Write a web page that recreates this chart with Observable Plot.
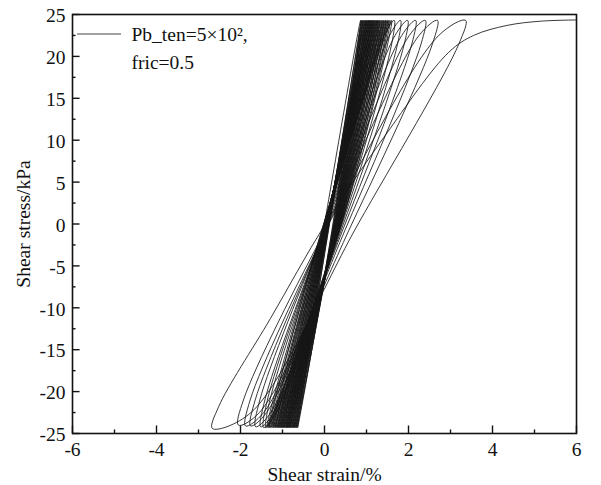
<!DOCTYPE html>
<html>
<head>
<meta charset="utf-8">
<script src="https://cdn.jsdelivr.net/npm/d3@7"></script>
<script src="https://cdn.jsdelivr.net/npm/@observablehq/plot@0.6"></script>
<style>
  body { margin: 0; background: #fff; }
  #chart { position: relative; width: 601px; height: 485px; }
  #chart svg, #chart svg text { font-family: 'Liberation Serif', 'Times New Roman', serif; }
</style>
</head>
<body>
<div id="chart"></div>
<script>
// ---- axis ticks ----
const xMajor = [-6, -4, -2, 0, 2, 4, 6];
const xMinor = [-5, -3, -1, 1, 3, 5];
const yMajor = [-25, -20, -15, -10, -5, 0, 5, 10, 15, 20, 25];
const yMinor = [-22.5, -17.5, -12.5, -7.5, -2.5, 2.5, 7.5, 12.5, 17.5, 22.5];

// ---- legend / titles ----
const legendLines = ["Pb_ten=5×10²,", "fric=0.5"];
const xTitle = "Shear strain/%";
const yTitle = "Shear stress/kPa";

// ---- cyclic stress amplitude (kPa) ----
const peakStress = 24.3;
const troughStress = -24.3;

// ---- early (dense) cycles: strain at the tips and where each branch crosses zero stress ----
const denseTop = [0.86, 0.88, 0.90, 0.92, 0.94, 0.96, 0.98, 1.00, 1.01, 1.03, 1.05, 1.06, 1.08, 1.10, 1.11, 1.13, 1.15, 1.16, 1.18, 1.20, 1.22, 1.24, 1.26, 1.28, 1.30, 1.32, 1.35, 1.37, 1.40, 1.42, 1.45, 1.47, 1.50, 1.53, 1.56, 1.60];
const denseBot = [-0.64, -0.66, -0.68, -0.70, -0.72, -0.74, -0.76, -0.78, -0.80, -0.82, -0.84, -0.85, -0.87, -0.89, -0.90, -0.92, -0.94, -0.96, -0.98, -1.00, -1.02, -1.04, -1.06, -1.08, -1.10, -1.12, -1.15, -1.17, -1.20, -1.22, -1.25, -1.28, -1.31, -1.34, -1.37, -1.40];
const denseUpMid = [0.00, 0.11, 0.09, 0.12, 0.08, 0.10, 0.07, 0.11, 0.09, 0.06, 0.10, 0.08, 0.05, 0.09, 0.07, 0.04, 0.08, 0.06, 0.03, 0.07, 0.05, 0.02, 0.06, 0.04, 0.01, 0.05, 0.03, 0.00, 0.04, 0.02, -0.01, 0.03, 0.01, -0.02, 0.00, -0.02];
const denseDownMid = [0.20, 0.22, 0.24, 0.21, 0.25, 0.23, 0.26, 0.24, 0.27, 0.25, 0.28, 0.26, 0.29, 0.27, 0.30, 0.28, 0.31, 0.29, 0.32, 0.30, 0.33, 0.31, 0.34, 0.32, 0.35, 0.33, 0.36, 0.34, 0.37, 0.35, 0.38, 0.36, 0.39, 0.37, 0.40, 0.40];

// ---- late (wide) cycles ----
const branchLevels = { upLow: -21, mid: 0, upHigh: 22.5, downHigh: 21.5, downLow: -22.5 };
const outerTop      = [1.66, 1.81, 1.98, 2.17, 2.40, 2.69, 3.36];
const outerTopY     = [24.3, 24.3, 24.3, 24.3, 24.3, 24.3, 24.3];
const outerUpLow    = [-1.30, -1.36, -1.42, -1.54, -1.65, -1.77, -1.93];
const outerUpMid    = [0.02, 0.03, 0.04, 0.05, 0.07, 0.09, 0.10];
const outerUpHigh   = [1.42, 1.55, 1.68, 1.84, 2.02, 2.25, 2.72];
const outerDownHigh = [1.60, 1.74, 1.90, 2.08, 2.30, 2.57, 3.20];
const outerDownMid  = [0.40, 0.42, 0.45, 0.49, 0.55, 0.65, 0.80];
const outerDownLow  = [-1.15, -1.20, -1.28, -1.38, -1.45, -1.55, -1.75];
const outerBot      = [-1.45, -1.52, -1.64, -1.76, -1.88, -2.05, -2.67];
const outerBotY     = [-24.3, -24.2, -24.2, -24.1, -24.1, -24.0, -24.4];

// ---- final monotonic loading ----
const finalX = [-2.52, -1.29, 0.02, 1.45, 2.96, 3.55, 4.35, 5.14, 6.0];
const finalY = [-21.8, -11.3, 0, 10.6, 20.5, 22.5, 23.7, 24.2, 24.35];

// ---- build the path table ----
const path = [{x: 0, y: 0}];
denseTop.forEach((t, k) => {
  if (k > 0) path.push({x: denseUpMid[k], y: branchLevels.mid});
  path.push({x: t, y: peakStress});
  path.push({x: denseDownMid[k], y: branchLevels.mid});
  path.push({x: denseBot[k], y: troughStress});
});
outerTop.forEach((t, i) => {
  path.push({x: outerUpLow[i], y: branchLevels.upLow});
  path.push({x: outerUpMid[i], y: branchLevels.mid});
  path.push({x: outerUpHigh[i], y: branchLevels.upHigh});
  path.push({x: t, y: outerTopY[i]});
  path.push({x: outerDownHigh[i], y: branchLevels.downHigh});
  path.push({x: outerDownMid[i], y: branchLevels.mid});
  path.push({x: outerDownLow[i], y: branchLevels.downLow});
  path.push({x: outerBot[i], y: outerBotY[i]});
});
finalX.forEach((x, i) => path.push({x, y: finalY[i]}));

// tick lengths expressed in data units
const xTickMajorLen = 0.9, xTickMinorLen = 0.42;   // along y
const yTickMajorLen = 0.18, yTickMinorLen = 0.085; // along x

const font = "'Liberation Serif', 'Times New Roman', serif";
const fs = 19.5;
const ink = "#111";

const chart = Plot.plot({
  width: 601,
  height: 485,
  marginLeft: 72,
  marginRight: 25,
  marginTop: 14,
  marginBottom: 52,
  style: {fontFamily: font, fontSize: fs + "px", color: ink, background: "#fff"},
  x: {domain: [-6, 6]},
  y: {domain: [-25, 25]},
  marks: [
    Plot.line(path, {x: "x", y: "y", curve: "catmull-rom", stroke: "#151515", strokeWidth: 0.85}),
    Plot.ruleX(xMajor, {x: d => d, y1: -25, y2: -25 + xTickMajorLen, stroke: ink, strokeWidth: 1.4}),
    Plot.ruleX(xMinor, {x: d => d, y1: -25, y2: -25 + xTickMinorLen, stroke: ink, strokeWidth: 1.4}),
    Plot.ruleY(yMajor, {y: d => d, x1: -6, x2: -6 + yTickMajorLen, stroke: ink, strokeWidth: 1.4}),
    Plot.ruleY(yMinor, {y: d => d, x1: -6, x2: -6 + yTickMinorLen, stroke: ink, strokeWidth: 1.4}),
    Plot.frame({stroke: ink, strokeWidth: 1.6}),
    Plot.axisX({ticks: xMajor, tickSize: 0, tickPadding: 9, tickFormat: d => String(d), label: null, fontSize: fs, fontFamily: font, fill: ink}),
    Plot.axisY({ticks: yMajor, tickSize: 0, tickPadding: 7, tickFormat: d => String(d), label: null, fontSize: fs, fontFamily: font, dy: 1.5, fill: ink}),
    Plot.text([xTitle], {frameAnchor: "bottom", dy: 41, textAnchor: "middle", lineAnchor: "middle", fontSize: fs, fontFamily: font, fill: ink}),
    Plot.text([yTitle], {frameAnchor: "left", dx: -49, rotate: -90, textAnchor: "middle", lineAnchor: "middle", fontSize: fs, fontFamily: font, fill: ink}),
    Plot.text([legendLines[0]], {frameAnchor: "top-left", dx: 59, dy: 20, textAnchor: "start", lineAnchor: "middle", fontSize: fs, fontFamily: font, fill: ink}),
    Plot.text([legendLines[1]], {frameAnchor: "top-left", dx: 59, dy: 48, textAnchor: "start", lineAnchor: "middle", fontSize: fs, fontFamily: font, fill: ink})
  ]
});

document.getElementById("chart").appendChild(chart);

// legend swatch
d3.select(chart).append("line")
  .attr("x1", 77).attr("x2", 121).attr("y1", 34).attr("y2", 34)
  .attr("stroke", "#444").attr("stroke-width", 1);
</script>
</body>
</html>
